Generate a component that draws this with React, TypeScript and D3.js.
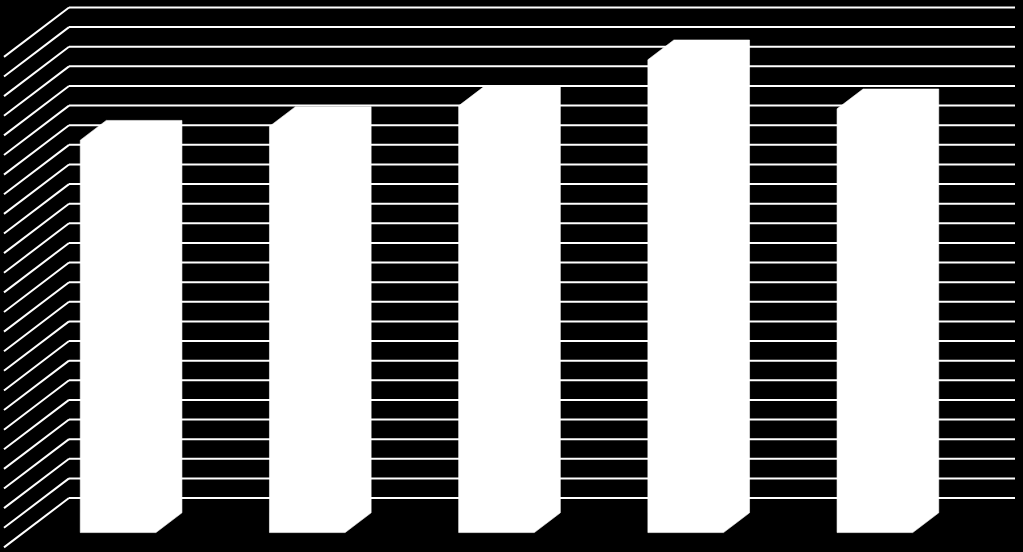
import React from "react";
import * as d3 from "d3";

const categories = ["A", "B", "C", "D", "E"];
const values = [20.0, 20.7, 21.75, 24.1, 21.6];
const gridTicks = d3.range(0, 26, 1);

const W = 1023;
const H = 552;
const wallLeft = 69;
const wallRight = 1015;
const floorY = 498;
const topY = 7.5;
const depth = { dx: -65, dy: 49.4 };
const barZ0 = 0.3;
const barZ1 = 0.7;

export default function App() {
  const x = d3.scaleBand<string>().domain(categories).range([wallLeft, wallRight]).paddingInner(0).paddingOuter(0);
  const y = d3.scaleLinear().domain([0, 25]).range([0, floorY - topY]);

  const proj = (px: number, h: number, z: number): [number, number] => [
    px + z * depth.dx,
    floorY - y(h) + z * depth.dy,
  ];
  const poly = (pts: [number, number][]) => pts.map((p) => p.join(",")).join(" ");

  const bw = x.bandwidth() * 0.4;

  return (
    <div style={{ position: "fixed", left: 0, top: 0, width: W, height: H, background: "#000" }}>
      <svg width={W} height={H} style={{ display: "block", background: "#000" }}>
        <rect x={0} y={0} width={W} height={H} fill="#000" />
        <g stroke="#ffffff" strokeWidth={2} fill="none">
          {gridTicks.map((t) => {
            const [bx, by] = proj(wallLeft, t, 0);
            const [fx, fy] = proj(wallLeft, t, 1);
            const [rx, ry] = proj(wallRight, t, 0);
            return (
              <g key={t}>
                <line x1={bx} y1={by} x2={rx} y2={ry} />
                <line x1={bx} y1={by} x2={fx} y2={fy} />
              </g>
            );
          })}
        </g>
        <g fill="#ffffff" stroke="#ffffff" strokeWidth={0.6} strokeLinejoin="miter">
          {categories.map((c, i) => {
            const cx = (x(c) as number) + x.bandwidth() / 2;
            const x0 = cx - bw / 2;
            const x1 = cx + bw / 2;
            const v = values[i];
            const outline = [
              proj(x0, 0, barZ1),
              proj(x1, 0, barZ1),
              proj(x1, 0, barZ0),
              proj(x1, v, barZ0),
              proj(x0, v, barZ0),
              proj(x0, v, barZ1),
            ] as [number, number][];
            return <polygon key={c} points={poly(outline)} />;
          })}
        </g>
      </svg>
    </div>
  );
}
